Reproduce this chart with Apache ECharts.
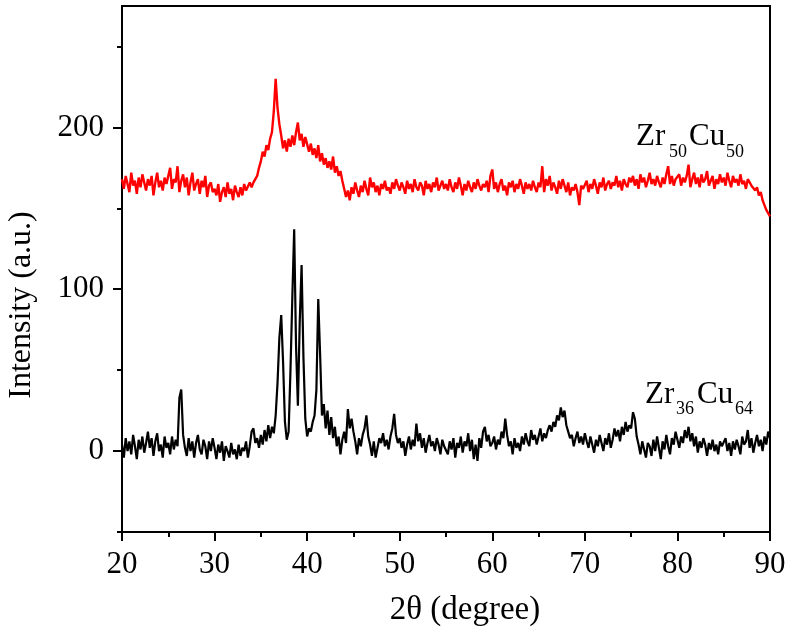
<!DOCTYPE html>
<html>
<head>
<meta charset="utf-8">
<script src="https://cdn.jsdelivr.net/npm/echarts@6/dist/echarts.min.js"></script>
<style>
html,body{margin:0;padding:0;background:#fff;}
#chart{width:790px;height:638px;}
</style>
</head>
<body>
<div id="chart"></div>
<script>
// 2-theta measurement grid
const thetaStart = 20;
const thetaStep = 0.2;

// Zr50Cu50 (red) intensity, 20.0 .. 90.0 step 0.2
const zr50cu50 = [
168,162,170,165,160,172,164,167,159,169,163,171,166,161,168,164,170,158,166,172,163,167,161,169,165,
164,175,162,168,166,176,160,167,171,163,169,158,166,172,161,165,168,159,167,163,170,157,164,166,160,
162,158,165,154,160,163,157,166,159,162,155,164,160,157,163,158,165,161,160,166,163,166,165,170,175,
179,185,182,189,186,193,197,210,230,212,202,195,187,192,185,193,188,195,189,197,203,192,196,188,194,
193,185,190,183,187,181,189,179,184,177,181,175,179,174,182,172,176,170,173,167,168,157,161,155,163,
159,166,161,157,164,160,167,162,158,169,163,166,160,164,158,165,162,167,161,163,159,166,162,168,164,
161,166,163,159,167,162,165,160,168,163,161,166,164,158,167,162,165,160,166,163,169,161,164,167,162,
165,161,168,163,160,166,162,169,164,158,165,161,167,163,160,166,162,168,164,161,165,163,167,160,170,
174,162,166,160,165,168,161,164,158,166,163,167,160,165,162,168,164,159,166,162,165,161,167,163,160,
166,163,176,160,168,164,170,161,166,163,159,167,162,168,164,160,166,158,163,161,165,160,152,164,162,
163,167,160,165,162,168,164,159,166,163,169,161,165,167,162,166,164,170,163,167,161,168,165,163,169,
166,170,164,168,162,171,166,169,163,167,172,165,168,164,170,166,163,169,165,171,176,165,170,164,168,
167,171,164,169,166,170,177,163,168,172,165,169,163,171,166,168,173,164,167,170,162,168,165,171,166,
169,164,172,167,163,170,166,168,164,171,165,167,162,168,166,164,165,161,163,158,160,155,152,149,147,
145
];

// Zr36Cu64 (black) intensity, 20.0 .. 90.0 step 0.2
const zr36cu64 = [
4,-4,8,0,6,-2,10,3,-5,7,1,9,-1,5,12,2,8,-3,6,11,0,4,-4,9,2,
5,-2,9,1,7,3,33,38,10,2,-3,8,0,6,-4,5,10,1,-2,7,3,-5,6,0,8,
2,-5,4,-1,6,-6,3,0,-4,5,-2,1,-5,4,-3,2,0,6,-4,3,12,14,5,8,2,
10,4,13,6,16,8,15,11,22,42,70,84,55,18,7,12,50,95,137,65,28,80,115,58,20,
9,14,12,18,22,38,94,60,22,29,14,25,10,21,8,15,3,9,-2,7,12,5,26,14,20,
12,6,-2,8,3,10,14,22,9,4,-3,6,-4,2,8,5,11,3,7,1,9,14,23,10,5,
8,2,6,-3,4,9,1,7,3,17,6,11,2,8,-1,5,10,3,6,0,8,4,-2,7,3,
4,-2,6,1,8,-4,5,2,9,-1,6,3,11,0,7,-5,4,-6,8,2,12,15,6,10,3,
5,9,1,7,4,12,8,20,10,3,6,-2,8,2,5,0,9,4,11,6,3,13,7,10,4,
9,14,6,11,8,13,16,12,18,15,22,19,27,21,25,16,12,8,10,3,8,12,5,9,4,
11,6,2,9,4,-1,7,3,10,5,0,8,4,11,2,7,14,9,13,6,15,10,18,12,16,
14,24,20,9,4,-2,6,1,-4,5,3,-3,7,0,9,2,-5,6,1,10,3,-2,8,4,12,
7,2,9,5,13,8,15,6,11,3,9,-1,6,2,8,4,-3,5,1,7,0,4,-2,6,3,
2,8,0,5,-3,6,1,7,3,-2,9,4,6,13,2,8,-1,5,10,3,7,0,9,4,12,
8
];

const xTicks = [20,30,40,50,60,70,80,90];
const yTicks = [0,100,200];
const yMinorTicks = [-50,50,150,250];

const toPairs = arr => arr.map((v,i) => [+(thetaStart + i*thetaStep).toFixed(1), v]);

const FONT = 'Liberation Serif';
const chart = echarts.init(document.getElementById('chart'), null, {renderer:'canvas'});

chart.setOption({
  animation: false,
  backgroundColor: '#fff',
  grid: {left:122, right:20, top:6, bottom:106, show:true, borderColor:'#000', borderWidth:2,
         containLabel:false, outerBoundsMode:'none'},
  xAxis: {
    type:'value', min:20, max:90, interval:10,
    name:'2θ (degree)', nameLocation:'middle', nameGap:62,
    nameTextStyle:{fontFamily:FONT, fontSize:33, color:'#000', padding:[0,0,0,38]},
    axisLine:{show:true, onZero:false, lineStyle:{color:'#000', width:2}},
    axisTick:{show:true, inside:false, length:9, lineStyle:{color:'#000', width:2}},
    minorTick:{show:true, splitNumber:2, length:5, lineStyle:{color:'#000', width:2}},
    axisLabel:{margin:17, fontFamily:FONT, fontSize:31, color:'#000', customValues:xTicks},
    splitLine:{show:false}
  },
  yAxis: [{
    type:'value', min:-50, max:275,
    name:'Intensity (a.u.)', nameLocation:'middle', nameGap:84, nameRotate:90,
    nameTextStyle:{fontFamily:FONT, fontSize:32, color:'#000', padding:[0,72,0,0]},
    axisLine:{show:true, onZero:false, lineStyle:{color:'#000', width:2}},
    axisTick:{show:true, inside:false, length:9, customValues:yTicks, lineStyle:{color:'#000', width:2}},
    axisLabel:{margin:18, fontFamily:FONT, fontSize:31, color:'#000', customValues:yTicks},
    splitLine:{show:false}
  },{
    type:'value', min:-50, max:275, position:'left',
    axisLine:{show:false},
    axisTick:{show:true, inside:false, length:5, customValues:yMinorTicks, lineStyle:{color:'#000', width:2}},
    axisLabel:{show:false, customValues:yMinorTicks},
    splitLine:{show:false}
  }],
  series: [
    {name:'Zr36Cu64', type:'line', data:toPairs(zr36cu64), showSymbol:false, symbol:'none',
     lineStyle:{color:'#000', width:2.2}, itemStyle:{color:'#000'}, z:2},
    {name:'Zr50Cu50', type:'line', data:toPairs(zr50cu50), showSymbol:false, symbol:'none',
     lineStyle:{color:'#ff0000', width:2.4}, itemStyle:{color:'#ff0000'}, z:3}
  ],
  graphic: [
    {type:'text', left:636, top:121, style:{text:'Zr', font:'31px "Liberation Serif"', fill:'#000'}},
    {type:'text', left:669, top:143, style:{text:'50', font:'18px "Liberation Serif"', fill:'#000'}},
    {type:'text', left:689, top:121, style:{text:'Cu', font:'31px "Liberation Serif"', fill:'#000'}},
    {type:'text', left:726, top:143, style:{text:'50', font:'18px "Liberation Serif"', fill:'#000'}},
    {type:'text', left:645, top:379, style:{text:'Zr', font:'31px "Liberation Serif"', fill:'#000'}},
    {type:'text', left:676, top:400, style:{text:'36', font:'18px "Liberation Serif"', fill:'#000'}},
    {type:'text', left:697, top:379, style:{text:'Cu', font:'31px "Liberation Serif"', fill:'#000'}},
    {type:'text', left:735, top:400, style:{text:'64', font:'18px "Liberation Serif"', fill:'#000'}}
  ]
});
</script>
</body>
</html>
